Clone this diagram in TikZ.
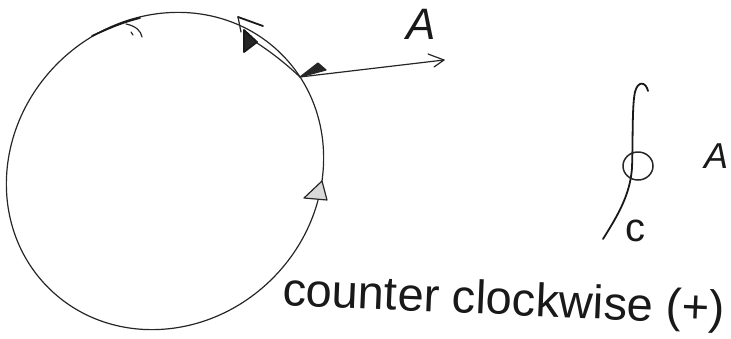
\documentclass[tikz,border=0pt]{standalone}
\usepackage{fontspec}
\setmainfont{Liberation Sans}
\begin{document}
\begin{tikzpicture}[x=1pt,y=-1pt,
  ink/.style={draw=black!85, line width=1.2pt, line cap=round, line join=round},
  thick ink/.style={draw=black!90, line width=1.8pt, line cap=round, line join=round},
  hand/.style={text=black!90, inner sep=0pt}]
\useasboundingbox (0,0) rectangle (731,338);
% contour C
\coordinate (ctr) at (165,171);
\draw[ink, rotate around={45:(ctr)}] (ctr) ellipse [x radius=165, y radius=152];
% arrow mark at top-left
\draw[thick ink] (92,36) .. controls (107,29) and (123,22) .. (140,18);
\draw[ink] (126,24) .. controls (136,26) and (141,31) .. (142,37);
\draw[ink] (131,32) -- (133,35);
% arrow mark on right side
\draw[ink, fill=black!15] (322,181) -- (304,198) -- (327,200) -- cycle;
% tangent vector dl
\coordinate (p) at (300,77);
\coordinate (t) at (249,38);
\draw[ink] (p) .. controls (282,60) and (264,47) .. (t);
\draw[thick ink, fill=black!85] (244,30) -- (244,52) -- (257,42) -- cycle;
\draw[thick ink] (238,17) -- (263,26);
\draw[ink] (238,17) -- (241,32);
% vector A
\coordinate (q) at (444,60);
\draw[ink] (p) -- (q);
\draw[ink, fill=black!85] (p) -- (318,63) -- (326,70) -- cycle;
\draw[ink] (428,54) -- (q) -- (434,67);
\node[hand, font=\fontsize{44}{44}\selectfont\itshape] (lblA) at (421,24) {A};
% contour integral sign
\coordinate (i1) at (648,91);
\coordinate (i2) at (603,239);
\draw[thick ink] (i1) .. controls (646,82) and (638,80) .. (635,92)
  .. controls (632,105) and (633,140) .. (632,168)
  .. controls (630,195) and (618,215) .. (i2);
\draw[ink, line width=1.5pt] (638,166) ellipse [x radius=15, y radius=14];
\node[hand, font=\fontsize{40}{40}\selectfont] (sub) at (635,231) {c};
\node[hand, font=\fontsize{36}{36}\selectfont\itshape, anchor=base west] (A2) at (704,168) {A};
% caption
\node[hand, anchor=base west, rotate=-2.5, font=\fontsize{47}{47}\selectfont] (ccw) at (282,305) {counter clockwise (+)};
\end{tikzpicture}
\end{document}
